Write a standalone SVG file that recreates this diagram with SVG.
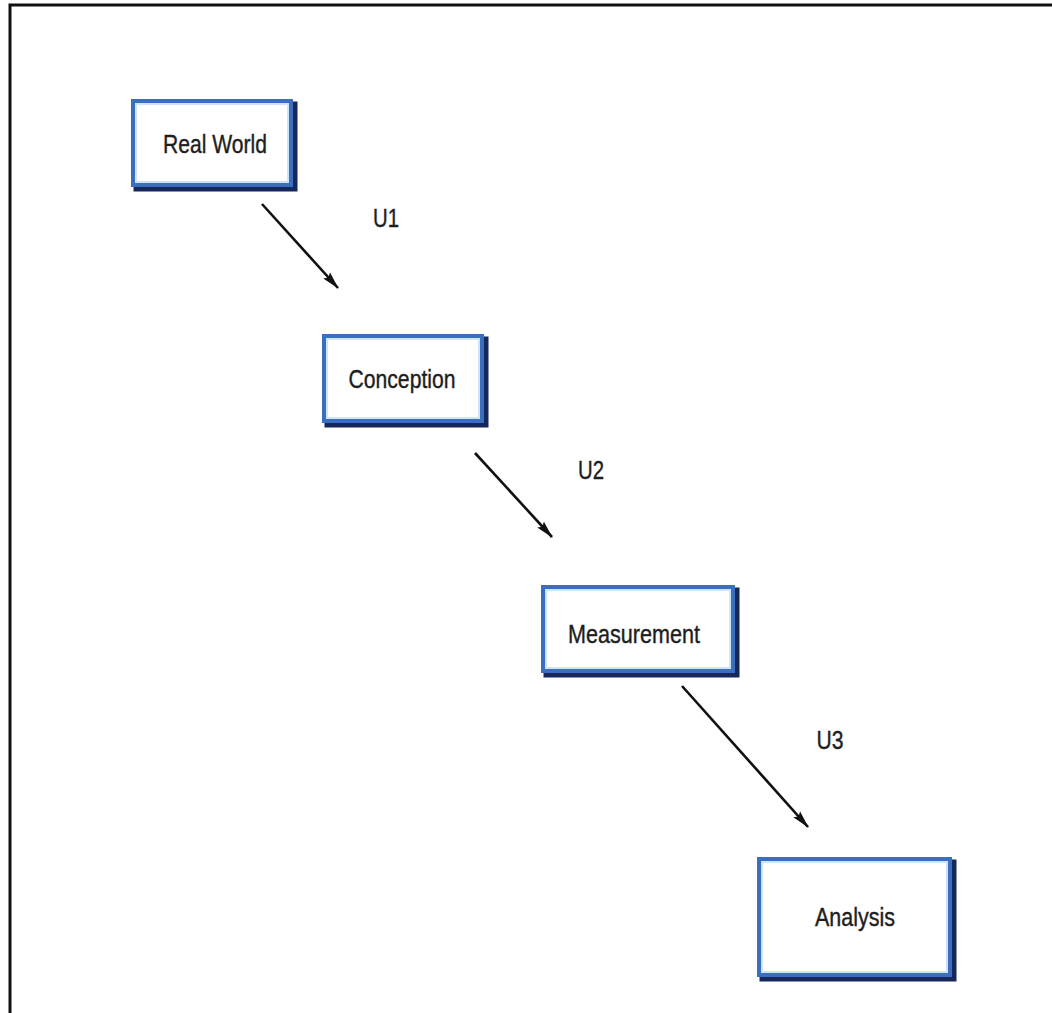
<svg xmlns="http://www.w3.org/2000/svg" width="1052" height="1013" viewBox="0 0 1052 1013">
<defs>
<style>
.shadow{fill:none;stroke:#16285a;stroke-width:5}
.box{fill:#ffffff;stroke:#3a6fc0;stroke-width:4}
.inner{fill:none;stroke:#cfe4fa;stroke-width:2}
.lbl{font-family:"Liberation Sans",Arial,sans-serif;font-size:26px;fill:#1e1e1e;stroke:#1e1e1e;stroke-width:0.4;text-anchor:middle}
.edge{stroke:#111;stroke-width:2.6;fill:none}
</style>
<marker id="ah" viewBox="0 0 18 10" refX="17" refY="5" markerWidth="18" markerHeight="10" markerUnits="userSpaceOnUse" orient="auto">
<path d="M0,0.5 L18,5 L0,9.5 L3,5 Z" fill="#111"/>
</marker>
</defs>
<rect width="1052" height="1013" fill="#ffffff"/>
<path d="M10,1013 L10,5 L1052,5" fill="none" stroke="#111" stroke-width="3"/>
<g id="node-real-world">
<rect class="shadow" x="136" y="104" width="159" height="85"/>
<rect class="box" x="133" y="101" width="158" height="84"/>
<rect class="inner" x="136" y="104" width="152" height="78"/>
<text class="lbl" x="215" y="153" textLength="104" lengthAdjust="spacingAndGlyphs">Real World</text>
</g>
<g id="node-conception">
<rect class="shadow" x="327" y="339" width="159" height="86"/>
<rect class="box" x="324" y="336" width="158" height="85"/>
<rect class="inner" x="327" y="339" width="152" height="79"/>
<text class="lbl" x="402" y="388" textLength="107" lengthAdjust="spacingAndGlyphs">Conception</text>
</g>
<g id="node-measurement">
<rect class="shadow" x="546" y="590" width="191" height="85"/>
<rect class="box" x="543" y="587" width="190" height="84"/>
<rect class="inner" x="546" y="590" width="184" height="78"/>
<text class="lbl" x="634" y="643" textLength="132" lengthAdjust="spacingAndGlyphs">Measurement</text>
</g>
<g id="node-analysis">
<rect class="shadow" x="762" y="862" width="192" height="117"/>
<rect class="box" x="759" y="859" width="191" height="116"/>
<rect class="inner" x="762" y="862" width="185" height="110"/>
<text class="lbl" x="855" y="926" textLength="80" lengthAdjust="spacingAndGlyphs">Analysis</text>
</g>
<g id="connectors">
<line class="edge" x1="262" y1="204" x2="338" y2="288" marker-end="url(#ah)"/>
<line class="edge" x1="475" y1="453" x2="552" y2="537" marker-end="url(#ah)"/>
<line class="edge" x1="682" y1="686" x2="808" y2="827" marker-end="url(#ah)"/>
<text class="lbl" x="386" y="227" textLength="26" lengthAdjust="spacingAndGlyphs">U1</text>
<text class="lbl" x="591" y="479" textLength="26" lengthAdjust="spacingAndGlyphs">U2</text>
<text class="lbl" x="830" y="749" textLength="27" lengthAdjust="spacingAndGlyphs">U3</text>
</g>
</svg>
